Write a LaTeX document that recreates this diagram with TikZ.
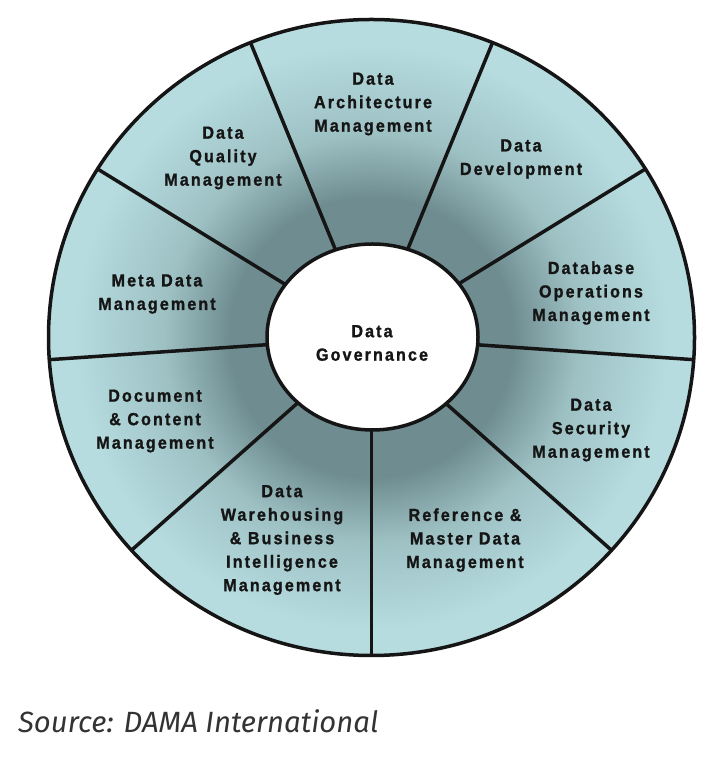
\documentclass[tikz,border=0pt]{standalone}
\usepackage{fontspec}
\setmainfont{Liberation Sans}
\newfontfamily\lblfont[LetterSpace=12,FakeStretch=0.92,BoldFeatures={FakeBold=1.2}]{Liberation Sans}
\newfontfamily\capfont{Fira Sans}
\usetikzlibrary{shapes.geometric}
\definecolor{ringlight}{HTML}{B6DCDF}
\definecolor{ringmid}{HTML}{9DC0C3}
\definecolor{ringdark}{HTML}{6F8D91}
\definecolor{inkc}{HTML}{151515}
\definecolor{capc}{HTML}{333333}
\pgfdeclareradialshading{ringshade}{\pgfpoint{0bp}{0bp}}{color(0bp)=(ringdark); color(11bp)=(ringdark); color(16bp)=(ringmid); color(23bp)=(ringlight); color(50bp)=(ringlight)}
\begin{document}
\begin{tikzpicture}[x=1pt,y=1pt,
  lbl/.style={font=\lblfont\bfseries\fontsize{17.5}{23.5}\selectfont, align=center, text=inkc, inner sep=0pt},
  divider/.style={line width=3.5pt, draw=inkc},
  rim/.style={line width=3.5pt, draw=inkc},
]
\useasboundingbox (0,0) rectangle (725,759);
\coordinate (c) at (371.5,421.5);
\fill[shading=ringshade] (c) ellipse [x radius=323, y radius=318];
\foreach \a in {68,32,-4,-42,-90,-138,-176,148,112}
  \draw[divider] (c) -- ++(\a:323 and 318);
\draw[rim] (c) ellipse [x radius=323, y radius=318];
\node[ellipse, rim, fill=white, minimum width=211, minimum height=186, inner sep=0pt] (govshape) at (372.5,422) {};
\node[lbl] (gov) at (372,416) {Data\\Governance};
\node[lbl] (arch) at (373,655) {Data\\Architecture\\Management};
\node[lbl] (qual) at (223,601) {Data\\Quality\\Management};
\node[lbl] (dev) at (521,600) {Data\\Development};
\node[lbl] (meta) at (157,465) {Meta Data\\Management};
\node[lbl] (dbops) at (591,466) {Database\\Operations\\Management};
\node[lbl] (doc) at (155,338) {Document\\\& Content\\Management};
\node[lbl] (sec) at (591,329) {Data\\Security\\Management};
\node[lbl] (wh) at (282,219) {Data\\Warehousing\\\& Business\\Intelligence\\Management};
\node[lbl] (ref) at (465,219) {Reference \&\\Master Data\\Management};
\node[anchor=base west, inner sep=0pt, text=capc, font=\capfont\itshape\fontsize{29.3}{33}\selectfont] (src) at (18,26) {Source: DAMA International};
\end{tikzpicture}
\end{document}
